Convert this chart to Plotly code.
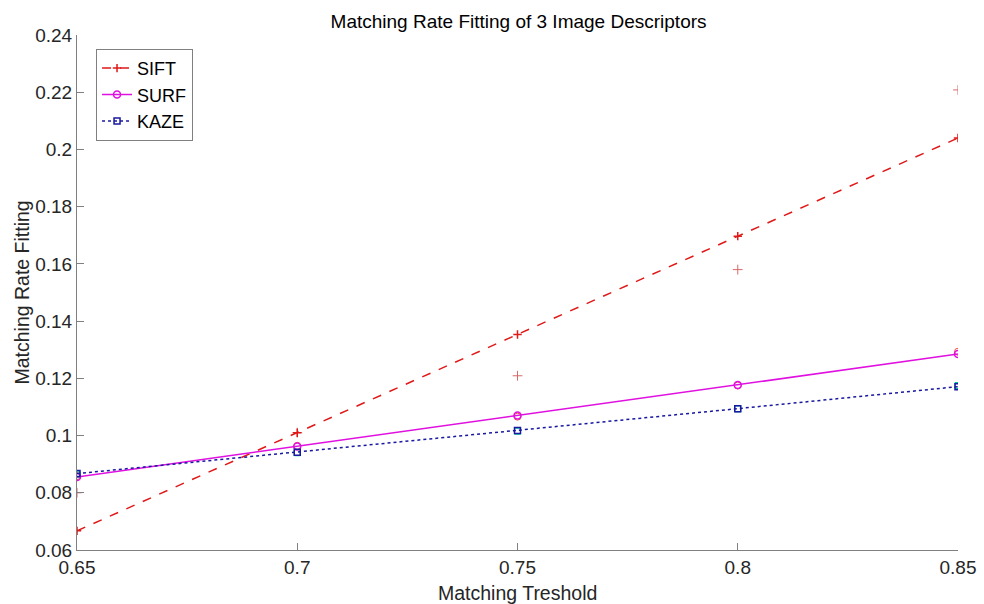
import plotly.graph_objects as go

thresholds = [0.65, 0.70, 0.75, 0.80, 0.85]

sift_fit = [0.0667, 0.1010, 0.1353, 0.1697, 0.2040]
surf_fit = [0.0855, 0.0962, 0.1070, 0.1177, 0.1285]
kaze_fit = [0.0867, 0.0942, 0.1018, 0.1094, 0.1171]

sift_raw = [0.0800, 0.1010, 0.1209, 0.1580, 0.2208]
surf_raw = [0.0858, 0.0964, 0.1066, 0.1175, 0.1293]
kaze_raw = [0.0863, 0.0940, 0.1015, 0.1093, 0.1175]

x_ticks = [0.65, 0.7, 0.75, 0.8, 0.85]
x_tick_labels = ["0.65", "0.7", "0.75", "0.8", "0.85"]
y_ticks = [0.06, 0.08, 0.1, 0.12, 0.14, 0.16, 0.18, 0.2, 0.22, 0.24]
y_tick_labels = ["0.06", "0.08", "0.1", "0.12", "0.14", "0.16", "0.18", "0.2", "0.22", "0.24"]

FONT = "Liberation Sans, Arial, sans-serif"
TXT = "#262626"

fig = go.Figure()

# raw data points (pale)
fig.add_trace(go.Scatter(x=thresholds, y=sift_raw, mode="markers", showlegend=False,
                         marker=dict(symbol="cross-thin", size=7, line=dict(color="#d86a6a", width=1))))
fig.add_trace(go.Scatter(x=thresholds, y=surf_raw, mode="markers", showlegend=False,
                         marker=dict(symbol="circle-open", size=7, line=dict(color="#f090f0", width=1))))
fig.add_trace(go.Scatter(x=thresholds, y=kaze_raw, mode="markers", showlegend=False,
                         marker=dict(symbol="square-open", size=6, line=dict(color="#8080c8", width=1))))

# fitted lines
fig.add_trace(go.Scatter(x=thresholds, y=sift_fit, mode="lines+markers", name="SIFT",
                         line=dict(color="#e01818", width=1.5, dash="dash"),
                         marker=dict(symbol="cross-thin", size=6, line=dict(color="#e01818", width=1.5))))
fig.add_trace(go.Scatter(x=thresholds, y=surf_fit, mode="lines+markers", name="SURF",
                         line=dict(color="#e010e0", width=1.5),
                         marker=dict(symbol="circle-open", size=7, line=dict(color="#e010e0", width=1.5))))
fig.add_trace(go.Scatter(x=thresholds, y=kaze_fit, mode="lines+markers", name="KAZE",
                         line=dict(color="#1818a0", width=1.5, dash="dot"),
                         marker=dict(symbol="square-open", size=6, line=dict(color="#1010e0", width=1.5))))

fig.update_layout(
    width=984, height=604,
    margin=dict(l=77, r=26, t=35, b=54),
    paper_bgcolor="white", plot_bgcolor="white",
    font=dict(family=FONT, color=TXT),
    title=dict(text="Matching Rate Fitting of 3 Image Descriptors", x=0.527, xanchor="center",
               y=0.964, yanchor="middle", font=dict(size=19, color="#000000")),
    xaxis=dict(range=[0.65, 0.85], tickvals=x_ticks, ticktext=x_tick_labels, automargin=False,
               showgrid=False, zeroline=False, showline=True, linecolor="#808080", linewidth=1,
               ticks="inside", ticklen=7, tickcolor="#808080",
               tickfont=dict(size=19, color=TXT)),
    yaxis=dict(range=[0.06, 0.24], tickvals=y_ticks, ticktext=y_tick_labels, automargin=False,
               showgrid=False, zeroline=False, showline=True, linecolor="#808080", linewidth=1,
               ticks="inside", ticklen=7, tickcolor="#808080",
               tickfont=dict(size=19, color=TXT)),
    legend=dict(x=0.0216, y=0.973, xanchor="left", yanchor="top",
                bgcolor="white", bordercolor="#808080", borderwidth=1,
                font=dict(size=18, color="#000000"), itemwidth=30, tracegroupgap=0),
    annotations=[
        dict(text="Matching Treshold", xref="paper", yref="paper", x=0.5, y=-0.0835,
             xanchor="center", yanchor="middle", showarrow=False,
             font=dict(size=19.5, color=TXT)),
        dict(text="Matching Rate Fitting", xref="paper", yref="paper", x=-0.0635, y=0.5,
             xanchor="center", yanchor="middle", showarrow=False, textangle=-90,
             font=dict(size=19.5, color=TXT)),
    ],
)

fig.write_html("out.html", config={"displayModeBar": False},
               post_script="document.body.style.margin='0px';document.body.style.overflow='hidden';")
